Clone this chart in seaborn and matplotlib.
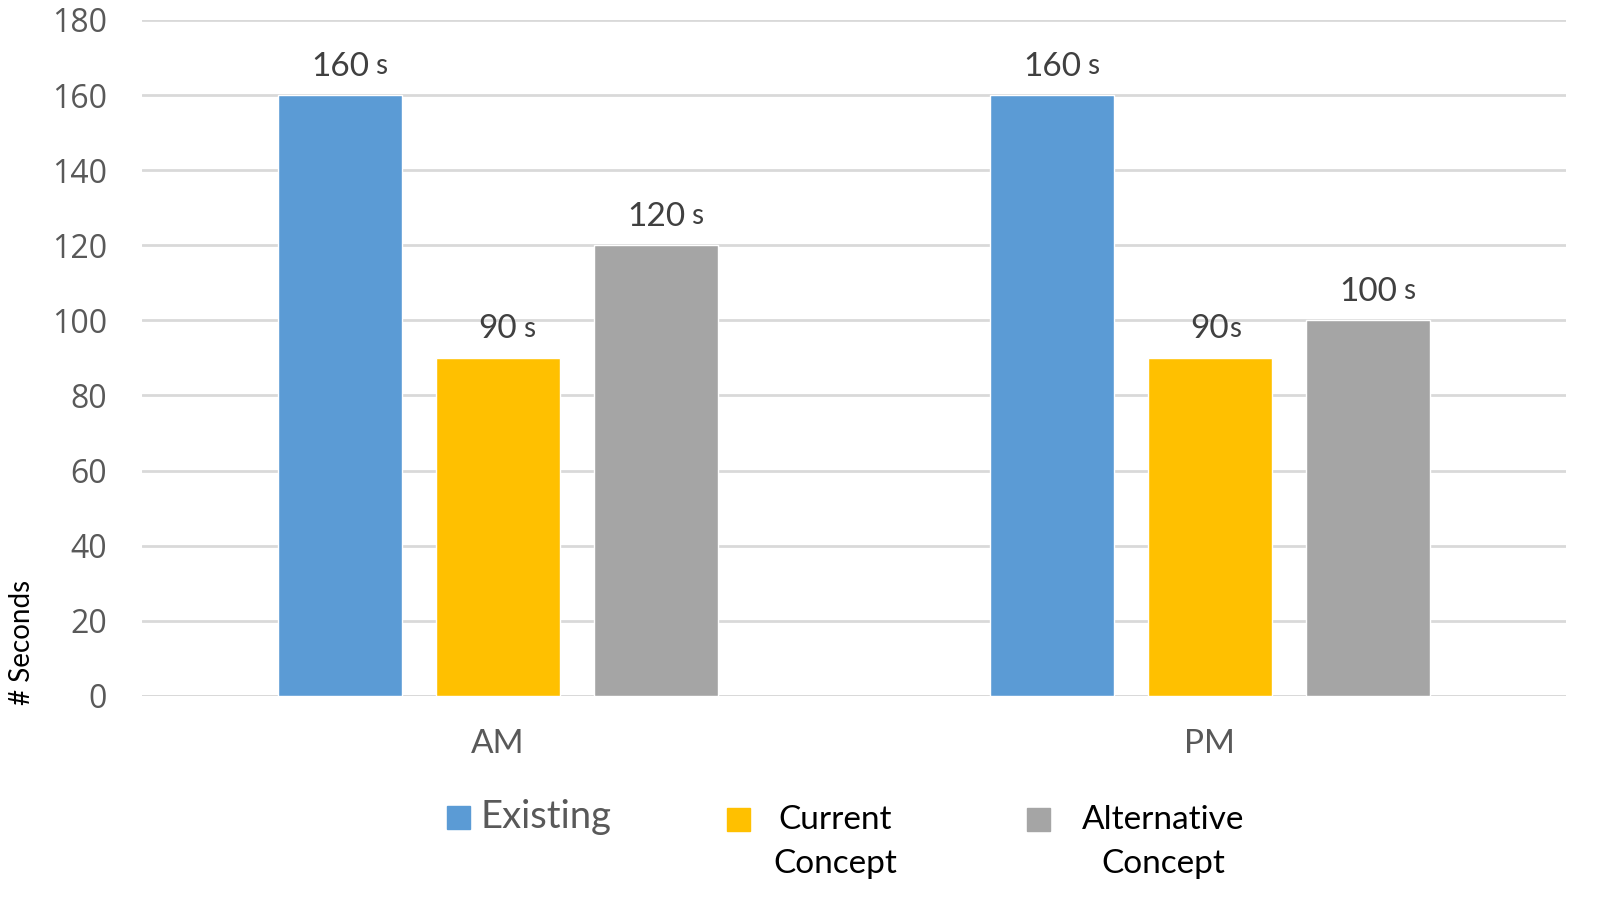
import matplotlib
matplotlib.use("Agg")
import matplotlib.pyplot as plt
from matplotlib.patches import Rectangle
import seaborn as sns
import pandas as pd

# data
periods = ["AM", "PM"]
series = ["Existing", "Current Concept", "Alternative Concept"]
existing = [160, 160]
current = [90, 90]
alternative = [120, 100]
# unit suffix drawn after each value label (one list per series)
suffix_existing = [" s", " s"]
suffix_current = [" s", "s"]
suffix_alternative = [" s", " s"]

colors = ["#5B9BD5", "#FFC000", "#A5A5A5"]

rows = []
for name, vals in zip(series, [existing, current, alternative]):
    for p, v in zip(periods, vals):
        rows.append({"period": p, "series": name, "seconds": v})
df = pd.DataFrame(rows)

sns.set_theme(style="white")
plt.rcParams['font.family'] = ['Lato', 'DejaVu Sans']

fig = plt.figure(figsize=(16.06, 9.05), dpi=100)
ax = fig.add_axes([0.0884, 0.231, 0.8866, 0.747])

sns.barplot(data=df, x="period", y="seconds", hue="series", order=periods,
            hue_order=series, palette=colors, width=0.666, gap=0.215,
            saturation=1, legend=False, ax=ax)

ax.set_ylim(0, 180)
ax.set_yticks(range(0, 181, 20))
ax.yaxis.grid(True, color="#D9D9D9", linewidth=2)
ax.set_axisbelow(True)
for s in ax.spines.values():
    s.set_visible(False)
ax.axhline(0, color="#D9D9D9", linewidth=2, zorder=0.5)
ax.set_xlabel("")
ax.set_ylabel("")
ax.tick_params(axis="y", length=0, pad=25, labelsize=23, labelcolor="#595959")
ax.tick_params(axis="x", length=0, pad=24, labelsize=24, labelcolor="#595959")
for lab in ax.get_yticklabels():
    lab.set_fontfamily(["Open Sans", "DejaVu Sans"])

suffixes = [suffix_existing, suffix_current, suffix_alternative]
for cont, sfx in zip(ax.containers, suffixes):
    for bar, suf in zip(cont, sfx):
        h = bar.get_height()
        num = ax.annotate(f"{h:.0f}", xy=(bar.get_x() + bar.get_width() / 2, h),
                          xytext=(0, 14), textcoords="offset points",
                          ha="center", va="baseline", fontsize=24, color="#404040")
        ax.annotate(suf, xy=(1, 0), xycoords=num, xytext=(0, 2),
                    textcoords="offset points", ha="left", va="bottom",
                    fontsize=20, color="#404040")

# y axis title
fig.text(22 / 1606, 1 - 642 / 905, "# Seconds", rotation=90, ha="center",
         va="center", fontsize=20, color="black")

# legend laid out like the reference
def legend_square(x, y, c):
    fig.add_artist(Rectangle((x / 1606, 1 - (y + 23) / 905), 23 / 1606, 23 / 905,
                             transform=fig.transFigure, color=c))

legend_square(447, 806, colors[0])
fig.text(481 / 1606, 1 - 817 / 905, "Existing", ha="left", va="center",
         fontsize=27.5, color="#595959")
legend_square(727, 808, colors[1])
fig.text(835 / 1606, 1 - 842 / 905, "Current\nConcept", ha="center", va="center",
         multialignment="center", fontsize=24, color="black", linespacing=1.55)
legend_square(1027, 808, colors[2])
fig.text(1163 / 1606, 1 - 842 / 905, "Alternative\nConcept", ha="center", va="center",
         multialignment="center", fontsize=24, color="black", linespacing=1.55)

fig.savefig("out.png", dpi=100)
